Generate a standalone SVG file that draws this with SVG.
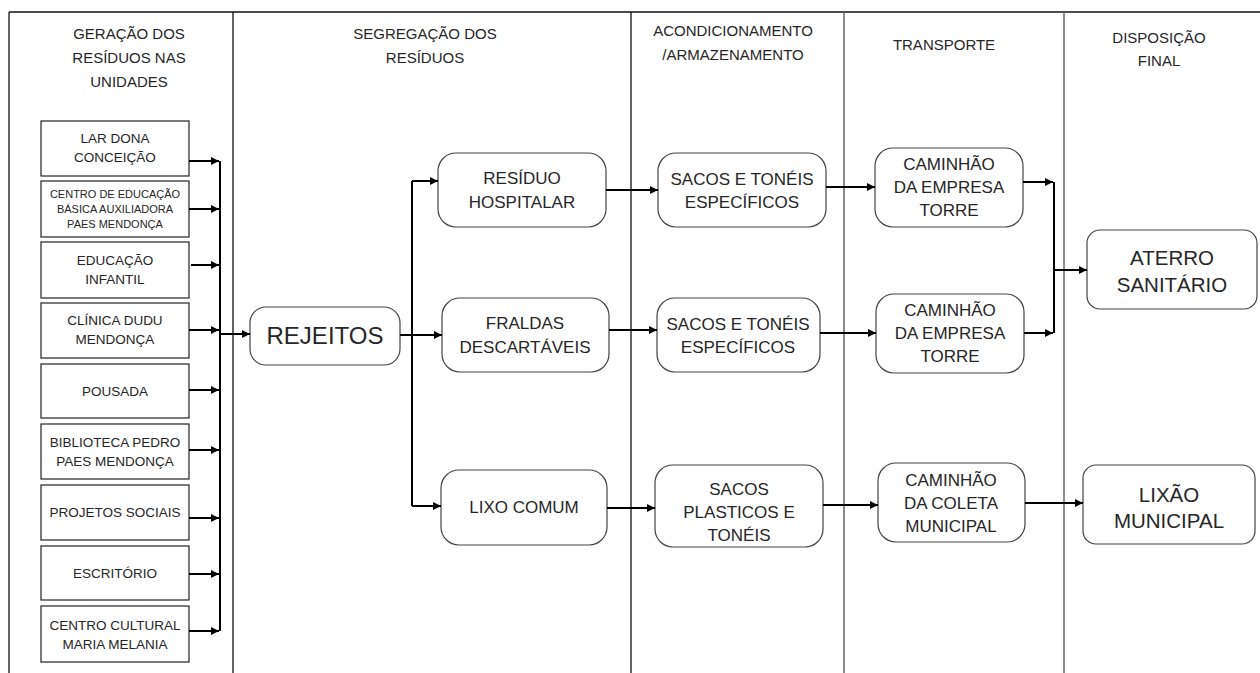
<svg xmlns="http://www.w3.org/2000/svg" width="1260" height="673" viewBox="0 0 1260 673">
<style>
text{font-family:"Liberation Sans",Arial,sans-serif;fill:#262626;text-anchor:middle}
.hd{font-size:15px}
.sm{font-size:13.5px}
.xs{font-size:11px}
.md{font-size:17px}
.lg{font-size:20.5px}
.xl{font-size:24px}
.box{fill:#fff;stroke:#222;stroke-width:1.2}
.rb{fill:#fff;stroke:#444;stroke-width:1.2}
.c{fill:none;stroke:#000;stroke-width:2}
.a{fill:none;stroke:#000;stroke-width:2;marker-end:url(#ah)}
.fr{stroke:#111;stroke-width:1.3}
.fg{stroke:#666;stroke-width:1.5}
</style>
<defs>
<marker id="ah" viewBox="0 0 10 10" refX="10" refY="5" markerUnits="userSpaceOnUse" markerWidth="9" markerHeight="8" orient="auto">
<path d="M0,0 L10,5 L0,10 z" fill="#000"/>
</marker>
</defs>
<rect width="1260" height="673" fill="#fff"/>
<g id="frame">
<line class="fr" x1="9" y1="12" x2="1260" y2="12"/>
<line class="fr" x1="9" y1="12" x2="9" y2="673"/>
<line class="fr" x1="233" y1="12" x2="233" y2="673"/>
<line class="fr" x1="631" y1="12" x2="631" y2="673"/>
<line class="fg" x1="844" y1="12" x2="844" y2="673"/>
<line class="fg" x1="1064" y1="12" x2="1064" y2="673"/>
</g>
<g id="headers">
<text class="hd" x="129" y="39">GERAÇÃO DOS</text>
<text class="hd" x="129" y="63">RESÍDUOS NAS</text>
<text class="hd" x="129" y="87">UNIDADES</text>
<text class="hd" x="425" y="39">SEGREGAÇÃO DOS</text>
<text class="hd" x="425" y="63">RESÍDUOS</text>
<text class="hd" x="733" y="36">ACONDICIONAMENTO</text>
<text class="hd" x="733" y="60">/ARMAZENAMENTO</text>
<text class="hd" x="944" y="50">TRANSPORTE</text>
<text class="hd" x="1159" y="43">DISPOSIÇÃO</text>
<text class="hd" x="1159" y="66">FINAL</text>
</g>
<g id="n-lar"><rect class="box" x="41" y="121" width="148" height="55"/><text class="sm" x="115" y="143">LAR DONA</text><text class="sm" x="115" y="162">CONCEIÇÃO</text></g>
<g id="n-ceb"><rect class="box" x="41" y="181" width="148" height="56"/><text class="xs" x="115" y="198">CENTRO DE EDUCAÇÃO</text><text class="xs" x="115" y="213">BÁSICA AUXILIADORA</text><text class="xs" x="115" y="228">PAES MENDONÇA</text></g>
<g id="n-edu"><rect class="box" x="41" y="242" width="148" height="56"/><text class="sm" x="115" y="265">EDUCAÇÃO</text><text class="sm" x="115" y="284">INFANTIL</text></g>
<g id="n-cli"><rect class="box" x="41" y="303" width="148" height="55"/><text class="sm" x="115" y="325">CLÍNICA DUDU</text><text class="sm" x="115" y="344">MENDONÇA</text></g>
<g id="n-pou"><rect class="box" x="41" y="364" width="148" height="54"/><text class="sm" x="115" y="396">POUSADA</text></g>
<g id="n-bib"><rect class="box" x="41" y="424" width="148" height="55"/><text class="sm" x="115" y="447">BIBLIOTECA PEDRO</text><text class="sm" x="115" y="466">PAES MENDONÇA</text></g>
<g id="n-pro"><rect class="box" x="41" y="485" width="148" height="55"/><text class="sm" x="115" y="517">PROJETOS SOCIAIS</text></g>
<g id="n-esc"><rect class="box" x="41" y="546" width="148" height="54"/><text class="sm" x="115" y="578">ESCRITÓRIO</text></g>
<g id="n-ccm"><rect class="box" x="41" y="606" width="148" height="56"/><text class="sm" x="115" y="630">CENTRO CULTURAL</text><text class="sm" x="115" y="649">MARIA MELANIA</text></g>
<g id="n-rej"><rect class="rb" x="250" y="307" width="150" height="58" rx="16"/><text class="xl" x="325" y="344">REJEITOS</text></g>
<g id="n-hosp"><rect class="rb" x="438" y="153" width="168" height="74" rx="18"/><text class="md" x="522" y="184">RESÍDUO</text><text class="md" x="522" y="208">HOSPITALAR</text></g>
<g id="n-fral"><rect class="rb" x="442" y="298" width="167" height="74" rx="18"/><text class="md" x="525" y="329">FRALDAS</text><text class="md" x="525" y="353">DESCARTÁVEIS</text></g>
<g id="n-lixo"><rect class="rb" x="441" y="470" width="166" height="75" rx="18"/><text class="md" x="524" y="513">LIXO COMUM</text></g>
<g id="n-sac1"><rect class="rb" x="658" y="153" width="168" height="74" rx="18"/><text class="md" x="742" y="185">SACOS E TONÉIS</text><text class="md" x="742" y="208">ESPECÍFICOS</text></g>
<g id="n-sac2"><rect class="rb" x="657" y="298" width="163" height="74" rx="18"/><text class="md" x="738" y="330">SACOS E TONÉIS</text><text class="md" x="738" y="353">ESPECÍFICOS</text></g>
<g id="n-sac3"><rect class="rb" x="655" y="465" width="168" height="82" rx="18"/><text class="md" x="739" y="495">SACOS</text><text class="md" x="739" y="518">PLASTICOS E</text><text class="md" x="739" y="541">TONÉIS</text></g>
<g id="n-cam1"><rect class="rb" x="875" y="148" width="148" height="79" rx="18"/><text class="md" x="949" y="170">CAMINHÃO</text><text class="md" x="949" y="193">DA EMPRESA</text><text class="md" x="949" y="216">TORRE</text></g>
<g id="n-cam2"><rect class="rb" x="876" y="294" width="148" height="79" rx="18"/><text class="md" x="950" y="316">CAMINHÃO</text><text class="md" x="950" y="339">DA EMPRESA</text><text class="md" x="950" y="362">TORRE</text></g>
<g id="n-cam3"><rect class="rb" x="878" y="463" width="147" height="79" rx="18"/><text class="md" x="951" y="486">CAMINHÃO</text><text class="md" x="951" y="509">DA COLETA</text><text class="md" x="951" y="532">MUNICIPAL</text></g>
<g id="n-aterro"><rect class="rb" x="1087" y="230" width="170" height="79" rx="13"/><text class="lg" x="1172" y="265">ATERRO</text><text class="lg" x="1172" y="292">SANITÁRIO</text></g>
<g id="n-lixao"><rect class="rb" x="1083" y="465" width="172" height="79" rx="13"/><text class="lg" x="1169" y="502">LIXÃO</text><text class="lg" x="1169" y="528">MUNICIPAL</text></g>
<g id="connectors">
<path class="a" d="M189,161 H219"/>
<path class="a" d="M189,209 H219"/>
<path class="a" d="M191,265 H219"/>
<path class="a" d="M189,330 H219"/>
<path class="a" d="M189,390 H219"/>
<path class="a" d="M189,450 H219"/>
<path class="a" d="M189,518 H219"/>
<path class="a" d="M189,574 H219"/>
<path class="a" d="M189,631 H219"/>
<path class="c" d="M220,161 V631"/>
<path class="a" d="M220,334 H250"/>
<path class="a" d="M400,335 H442"/>
<path class="c" d="M412,181 V506"/>
<path class="a" d="M412,181 H438"/>
<path class="a" d="M412,506 H441"/>
<path class="a" d="M606,190 H658"/>
<path class="a" d="M826,187 H875"/>
<path class="a" d="M609,330 H657"/>
<path class="a" d="M820,333 H876"/>
<path class="a" d="M1023,182 H1053"/>
<path class="a" d="M1024,333 H1053"/>
<path class="c" d="M1054,182 V333"/>
<path class="a" d="M1054,270 H1087"/>
<path class="a" d="M607,508 H655"/>
<path class="a" d="M823,505 H878"/>
<path class="a" d="M1025,503 H1083"/>
</g>
</svg>
